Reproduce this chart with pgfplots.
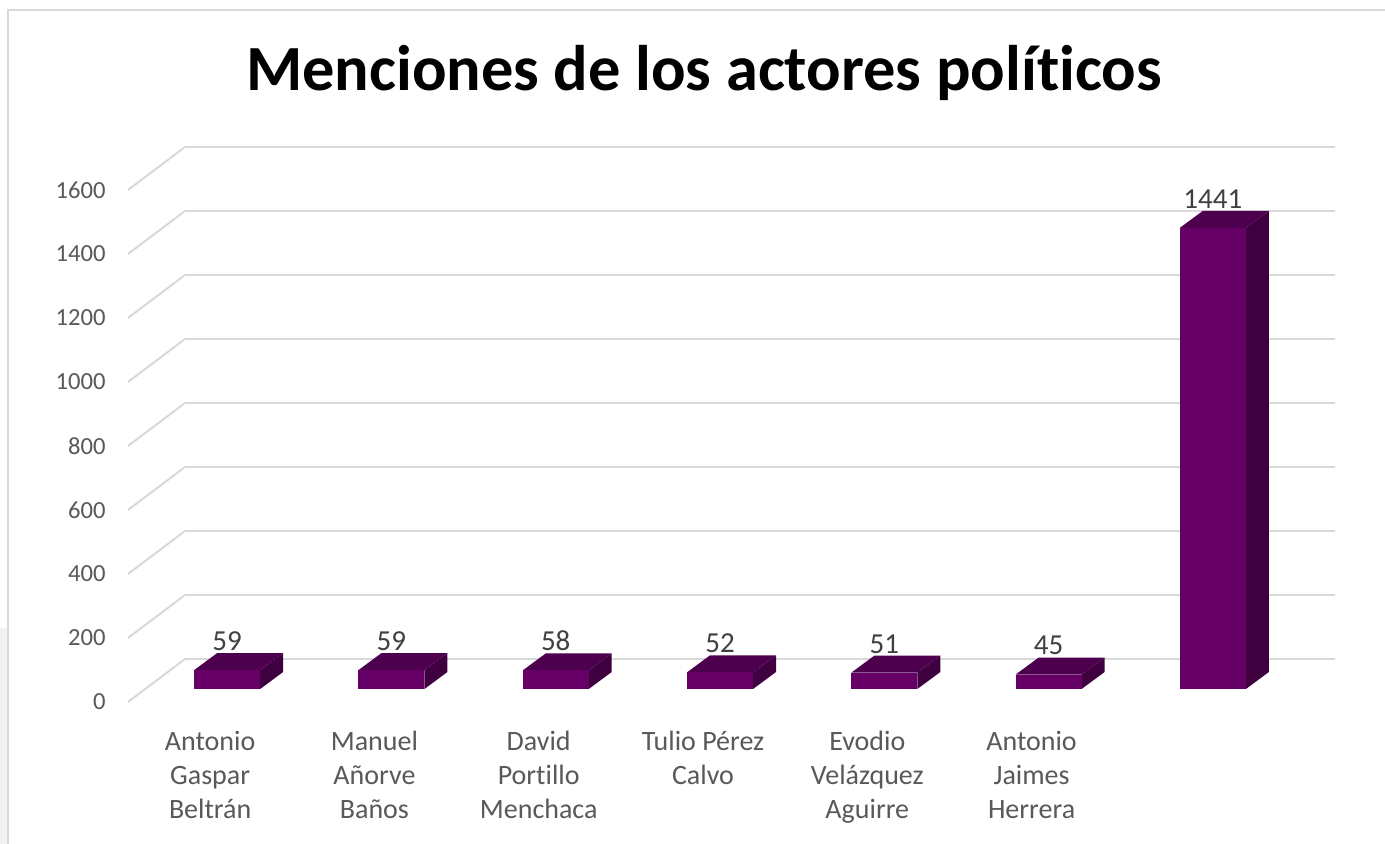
\documentclass[border=0pt]{standalone}
\usepackage{fontspec}
\setmainfont{Carlito}[RawFeature={-liga;-clig;-calt;-dlig}]
\usepackage{pgfplots}
\usepackage{pgfplotstable}
\pgfplotsset{compat=1.18}
\definecolor{barfront}{HTML}{660066}
\definecolor{bartop}{HTML}{4D004D}
\definecolor{barside}{HTML}{3F003F}
\definecolor{gridc}{HTML}{D9D9D9}
\definecolor{tickc}{HTML}{595959}
\definecolor{labc}{HTML}{404040}

\pgfplotstableread{
x v
0 59
1 59
2 58
3 52
4 51
5 45
6 1441
}\data

\begin{document}
\begin{tikzpicture}
\useasboundingbox (0,0) rectangle (692.5pt,422pt);
\fill[white] (0,0) rectangle (692.5pt,422pt);
\fill[black!5] (0,0) rectangle (4pt,108pt);
\draw[gridc, line width=1pt] (4pt,0) -- (4pt,417pt) -- (692.5pt,417pt);
\node[font=\fontsize{32.2}{38}\selectfont\bfseries, anchor=base] at (352pt,376.5pt) {Menciones de los actores políticos};
\begin{axis}[
  at={(92.5pt,92.5pt)}, anchor=south west,
  scale only axis, width=575pt, height=256pt,
  xmin=-0.5, xmax=6.5, ymin=0, ymax=1600,
  clip=false,
  axis line style={draw=none},
  major tick length=0pt,
  ytick={0,200,...,1600},
  xtick={0,...,6},
  xticklabels={{Antonio\\Gaspar\\Beltrán},{Manuel\\Añorve\\Baños},{David\\Portillo\\Menchaca},{Tulio Pérez\\Calvo},{Evodio\\Velázquez\\Aguirre},{Antonio\\Jaimes\\Herrera},{}},
  ymajorgrids,
  major grid style={gridc, line width=1pt},
  scaled y ticks=false,
  /pgf/number format/assume math mode=true,
  /pgf/number format/1000 sep={},
  yticklabel style={font=\fontsize{12.3}{14}\selectfont, text=tickc, anchor=east, inner sep=0pt, xshift=-39.5pt, yshift=-21.5pt},
  xticklabel style={font=\fontsize{14}{17}\selectfont, text=tickc, align=center, anchor=north, inner sep=0pt, xshift=-28.5pt, yshift=-36pt},
]
\pgfplotsinvokeforeach{0,200,...,1600}{
  \draw[gridc, line width=1pt] (axis cs:-0.5,#1) -- ++(-28.5pt,-21.5pt);
}
\pgfplotsinvokeforeach{0,...,6}{%
  \pgfplotstablegetelem{#1}{v}\of\data
  \pgfmathsetmacro\vt{\pgfplotsretval-93.75}%
  \pgfmathsetmacro\vb{\pgfplotsretval-40.625}%
  \pgfmathsetmacro\xa{#1-0.44435}%
  \pgfmathsetmacro\xb{#1-0.04261}%
  \pgfmathsetmacro\xc{#1+0.09739}%
  \pgfmathsetmacro\xd{#1-0.30435}%
  \edef\temp{%
    \noexpand\addplot[draw=none, fill=barside, forget plot] coordinates {(\xb,-93.75) (\xc,-40.625) (\xc,\vb) (\xb,\vt)};
    \noexpand\addplot[draw=none, fill=bartop, forget plot] coordinates {(\xa,\vt) (\xb,\vt) (\xc,\vb) (\xd,\vb)};
    \noexpand\addplot[draw=none, fill=barfront, forget plot] coordinates {(\xa,-93.75) (\xb,-93.75) (\xb,\vt) (\xa,\vt)};
  }\temp
}
\addplot[draw=none, mark=none, nodes near coords, point meta=explicit,
  nodes near coords style={font=\fontsize{14.5}{17}\selectfont, text=labc, anchor=south, inner sep=1pt}]
  table[x expr=\thisrow{x}-0.24348, y expr=\thisrow{v}-40.625, meta=v] {\data};
\end{axis}
\end{tikzpicture}
\end{document}
